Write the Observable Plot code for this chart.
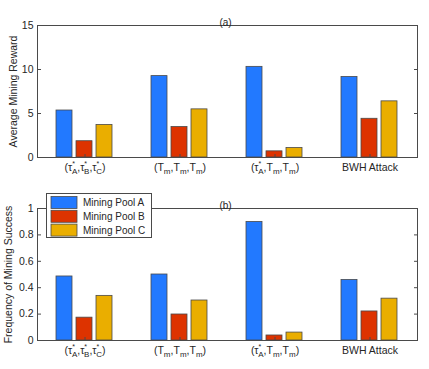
<!DOCTYPE html>
<html><head><meta charset="utf-8">
<script src="https://cdn.jsdelivr.net/npm/d3@7"></script>
<script src="https://cdn.jsdelivr.net/npm/@observablehq/plot@0.6"></script>
<style>
body{margin:0;background:#fff;}
#chart svg{display:block;overflow:visible;}
</style></head><body><div id="chart"></div>
<script>
// Category labels use a tiny markup: ^x = superscript, _x = subscript
const categories = ["(τ^*_A,τ^*_B,τ^*_C)", "(T_m,T_m,T_m)", "(τ^*_A,T_m,T_m)", "BWH Attack"];
const pools = ["Mining Pool A", "Mining Pool B", "Mining Pool C"];
const colors = ["#2279FF", "#DD3300", "#EAAE00"];

const rewardA = [5.34, 9.25, 10.3, 9.15];
const rewardB = [1.85, 3.46, 0.7, 4.4];
const rewardC = [3.7, 5.47, 1.08, 6.38];

const freqA = [0.485, 0.5, 0.898, 0.459];
const freqB = [0.173, 0.197, 0.038, 0.22];
const freqC = [0.338, 0.303, 0.06, 0.317];

const rewardTicks = [0, 5, 10, 15];
const freqTicks = [0, 0.2, 0.4, 0.6, 0.8, 1];

function table(series) {
  return categories.flatMap((c, i) => pools.map((p, j) => ({category: c, pool: p, value: series[j][i]})));
}

function richLabel(textEl, s) {
  const t = d3.select(textEl);
  t.text(null);
  let cur = 0, prevSup = false;
  const add = (str, size, shift, dx) => {
    const ts = t.append("tspan").text(str);
    if (size) ts.attr("font-size", size);
    if (shift !== cur) { ts.attr("dy", shift - cur); cur = shift; }
    if (dx) ts.attr("dx", dx);
  };
  let buf = "";
  for (let i = 0; i < s.length; i++) {
    const ch = s[i];
    if (ch === "^" || ch === "_") {
      if (buf) { add(buf, null, 0, 0); buf = ""; }
      const c = s[++i];
      if (ch === "^") { add(c, 7, -5, 0); prevSup = true; }
      else { add(c, 8, 3, prevSup ? -3 : 0); prevSup = false; }
    } else {
      buf += ch; prevSup = false;
      if (buf.length === 1 && cur !== 0) { add(buf, null, 0, 0); buf = ""; }
    }
  }
  if (buf) add(buf, null, 0, 0);
}

function panel({series, yDomain, yTicks, yLabel, labelOffset, title, height, marginTop, marginBottom}) {
  const plot = Plot.plot({
    width: 429, height, marginTop, marginBottom, marginLeft: 36, marginRight: 12,
    style: {fontFamily: "'Liberation Sans', Arial, sans-serif", fontSize: "10px", color: "#262626", background: "#fff"},
    fx: {domain: categories, paddingInner: 0, paddingOuter: 0, label: null},
    x: {domain: pools, paddingInner: 0.19, paddingOuter: 0.863, axis: null},
    y: {domain: yDomain, label: yLabel},
    color: {domain: pools, range: colors},
    marks: [
      Plot.barY(table(series), {fx: "category", x: "pool", y: "value", fill: "pool", stroke: "#4a4a4a", strokeWidth: 0.8}),
      Plot.frame({facet: "super", stroke: "#4a4a4a"}),
      Plot.axisFx({anchor: "bottom", tickSize: -3, tickPadding: 9, label: null, stroke: "#4a4a4a", fontSize: 10.5}),
      Plot.axisY({ticks: yTicks, tickSize: -4, tickPadding: 8, tickFormat: d => String(d), fontSize: 10.5,
        label: yLabel, labelAnchor: "center", labelArrow: "none", labelOffset, stroke: "#4a4a4a"}),
      Plot.axisY({anchor: "right", ticks: yTicks, tickSize: -4, tickFormat: () => "", label: null, stroke: "#4a4a4a"}),
      Plot.text([title], {facet: "super", frameAnchor: "top", dy: -7, dx: -2, fill: "#262626"})
    ]
  });
  d3.select(plot).selectAll("[aria-label='fx-axis tick label'] text").each(function() {
    richLabel(this, this.textContent);
  });
  return plot;
}

const topPlot = panel({series: [rewardA, rewardB, rewardC], yDomain: [0, 15], yTicks: rewardTicks, labelOffset: 28,
  yLabel: "Average Mining Reward", title: "(a)", height: 185, marginTop: 25, marginBottom: 28});
const bottomPlot = panel({series: [freqA, freqB, freqC], yDomain: [0, 1], yTicks: freqTicks, labelOffset: 33,
  yLabel: "Frequency of Mining Success", title: "(b)", height: 184, marginTop: 23, marginBottom: 29});

// legend inside the bottom panel (top-left)
const color = bottomPlot.scale("color");
const lg = d3.select(bottomPlot).append("g")
  .attr("font-family", "'Liberation Sans', Arial, sans-serif").attr("font-size", 10).attr("text-anchor", "start");
lg.append("rect").attr("x", 46.5).attr("y", 8.5).attr("width", 105).attr("height", 44).attr("fill", "#fff").attr("stroke", "#4a4a4a");
pools.forEach((p, i) => {
  const y = 11.5 + i * 13.8;
  lg.append("rect").attr("x", 51).attr("y", y).attr("width", 26).attr("height", 12).attr("fill", color.apply(p)).attr("stroke", "#4a4a4a").attr("stroke-width", 0.8);
  lg.append("text").attr("x", 83).attr("y", y + 6).attr("dy", "0.35em").attr("fill", "#262626").text(p);
});

document.getElementById("chart").append(topPlot, bottomPlot);
</script></body></html>
